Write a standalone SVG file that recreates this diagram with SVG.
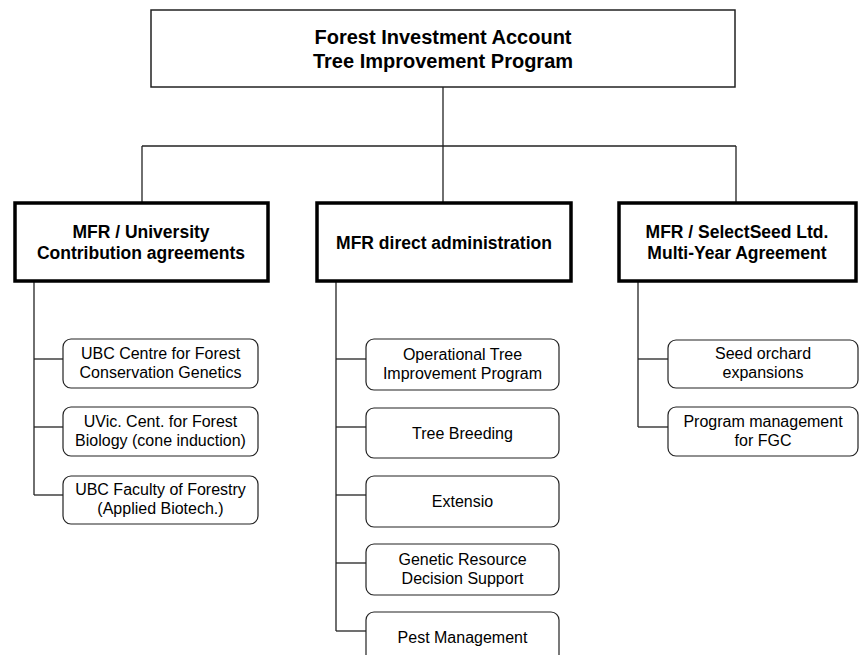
<svg xmlns="http://www.w3.org/2000/svg" width="860" height="655" viewBox="0 0 860 655">
<style>
.bg{fill:#fff}
.top{fill:#fff;stroke:#222;stroke-width:1.5}
.mid{fill:#fff;stroke:#000;stroke-width:3.5}
.leaf{fill:#fff;stroke:#222;stroke-width:1.2}
.conn line{stroke:#222;stroke-width:1.3}
text{font-family:"Liberation Sans",Arial,sans-serif;fill:#000;text-anchor:middle}
.t1{font-size:20px;font-weight:bold}
.t2{font-size:17.5px;font-weight:bold}
.t3{font-size:16px}
</style>
<rect class="bg" x="0" y="0" width="860" height="655"/>
<g id="connectors" class="conn">
<line x1="443" y1="87" x2="443" y2="146"/>
<line x1="142" y1="146" x2="736" y2="146"/>
<line x1="142" y1="146" x2="142" y2="203"/>
<line x1="443" y1="146" x2="443" y2="203"/>
<line x1="736" y1="146" x2="736" y2="203"/>
<line x1="34" y1="281" x2="34" y2="495"/>
<line x1="34" y1="359" x2="63" y2="359"/>
<line x1="34" y1="427" x2="63" y2="427"/>
<line x1="34" y1="495" x2="63" y2="495"/>
<line x1="336" y1="281" x2="336" y2="631"/>
<line x1="336" y1="359" x2="366" y2="359"/>
<line x1="336" y1="427" x2="366" y2="427"/>
<line x1="336" y1="495" x2="366" y2="495"/>
<line x1="336" y1="563" x2="366" y2="563"/>
<line x1="336" y1="631" x2="366" y2="631"/>
<line x1="638" y1="281" x2="638" y2="427"/>
<line x1="638" y1="359" x2="668" y2="359"/>
<line x1="638" y1="427" x2="668" y2="427"/>
</g>
<g id="root">
<rect class="top" x="151" y="10" width="584" height="77"/>
<text class="t1" x="443" y="44">Forest Investment Account</text>
<text class="t1" x="443" y="68">Tree Improvement Program</text>
</g>
<g id="univ">
<rect class="mid" x="15" y="203" width="253" height="78"/>
<text class="t2" x="141" y="238">MFR / University</text>
<text class="t2" x="141" y="259">Contribution agreements</text>
</g>
<g id="direct">
<rect class="mid" x="317" y="203" width="254" height="78"/>
<text class="t2" x="444" y="249">MFR direct administration</text>
</g>
<g id="selectseed">
<rect class="mid" x="619" y="203" width="237" height="78"/>
<text class="t2" x="737" y="238">MFR / SelectSeed Ltd.</text>
<text class="t2" x="737" y="259">Multi-Year Agreement</text>
</g>
<g id="ubc-cfcg">
<rect class="leaf" x="63" y="339" width="195" height="49" rx="8"/>
<text class="t3" x="160.5" y="359">UBC Centre for Forest</text>
<text class="t3" x="160.5" y="378">Conservation Genetics</text>
</g>
<g id="uvic">
<rect class="leaf" x="63" y="407" width="195" height="49" rx="8"/>
<text class="t3" x="160.5" y="427">UVic. Cent. for Forest</text>
<text class="t3" x="160.5" y="446">Biology (cone induction)</text>
</g>
<g id="ubc-forestry">
<rect class="leaf" x="63" y="476" width="195" height="48" rx="8"/>
<text class="t3" x="160.5" y="495">UBC Faculty of Forestry</text>
<text class="t3" x="160.5" y="514">(Applied Biotech.)</text>
</g>
<g id="otip">
<rect class="leaf" x="366" y="339" width="193" height="51" rx="8"/>
<text class="t3" x="462.5" y="360">Operational Tree</text>
<text class="t3" x="462.5" y="379">Improvement Program</text>
</g>
<g id="breeding">
<rect class="leaf" x="366" y="408" width="193" height="50" rx="8"/>
<text class="t3" x="462.5" y="439">Tree Breeding</text>
</g>
<g id="extensio">
<rect class="leaf" x="366" y="476" width="193" height="51" rx="8"/>
<text class="t3" x="462.5" y="507">Extensio</text>
</g>
<g id="grds">
<rect class="leaf" x="366" y="544" width="193" height="51" rx="8"/>
<text class="t3" x="462.5" y="565">Genetic Resource</text>
<text class="t3" x="462.5" y="584">Decision Support</text>
</g>
<g id="pest">
<rect class="leaf" x="366" y="612" width="193" height="51" rx="8"/>
<text class="t3" x="462.5" y="643">Pest Management</text>
</g>
<g id="orchard">
<rect class="leaf" x="668" y="340" width="190" height="48" rx="8"/>
<text class="t3" x="763" y="359">Seed orchard</text>
<text class="t3" x="763" y="378">expansions</text>
</g>
<g id="fgc">
<rect class="leaf" x="668" y="407" width="190" height="49" rx="8"/>
<text class="t3" x="763" y="427">Program management</text>
<text class="t3" x="763" y="446">for FGC</text>
</g>
</svg>
